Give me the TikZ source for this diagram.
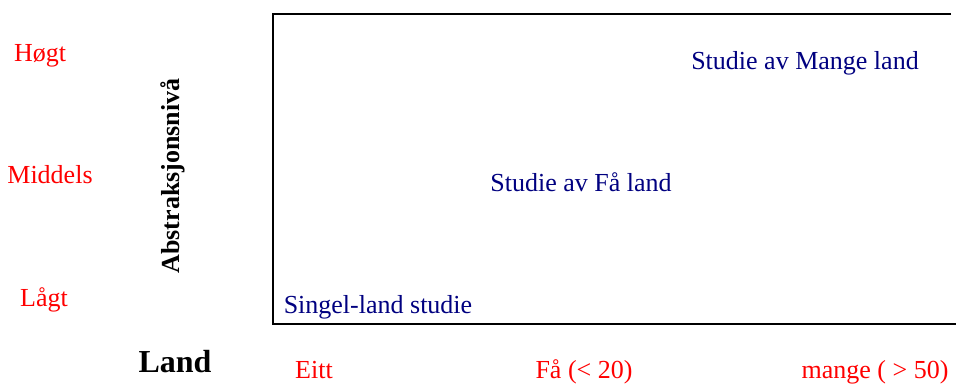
\documentclass[tikz,border=0pt]{standalone}
\usepackage{fontspec}
\setmainfont{Liberation Serif}
\definecolor{levelcol}{rgb}{1.0,0.0,0.0}
\definecolor{studycol}{rgb}{0.0,0.0,0.5}
\begin{document}
\begin{tikzpicture}[x=0.5bp,y=0.5bp,line join=miter,
  txt/.style={anchor=base,inner sep=0pt,font=\fontsize{13bp}{15bp}\selectfont},
  level/.style={txt,text=levelcol},
  study/.style={txt,text=studycol},
  axislabel/.style={txt,font=\fontsize{13bp}{15bp}\selectfont\bfseries},
]
  \useasboundingbox (0,0) rectangle (956,385);
  \pgfsetlinewidth{1bp}
%%
  % Frame
  \coordinate (FrameTop) at (951,371);
  \coordinate (FrameTL) at (272.5,371);
  \coordinate (FrameBL) at (272.5,61);
  \coordinate (FrameBottom) at (956,61);
  \draw (FrameTop) -- (FrameTL) -- (FrameBL) -- (FrameBottom);
  % Node: Abstraksjonsniva
  \node[axislabel,rotate=90] (Abstraksjonsniva) at (179.5,209) {Abstraksjonsnivå};
  % Node: Land
  \node[axislabel,font=\fontsize{16bp}{19bp}\selectfont\bfseries] (Land) at (175,12) {Land};
  % Node: Hogt
  \node[level] (Hogt) at (40,323) {Høgt};
  % Node: Middels
  \node[level] (Middels) at (50,201) {Middels};
  % Node: Lagt
  \node[level] (Lagt) at (44,78) {Lågt};
  % Node: Eitt
  \node[level] (Eitt) at (314,6) {Eitt};
  % Node: Fa
  \node[level] (Fa) at (584,6) {Få (< 20)};
  % Node: Mange
  \node[level] (Mange) at (875,6) {mange ( > 50)};
  % Node: StudieMange
  \node[study] (StudieMange) at (805,315) {Studie av Mange land};
  % Node: StudieFa
  \node[study] (StudieFa) at (581,193) {Studie av Få land};
  % Node: Singel
  \node[study] (Singel) at (378,71) {Singel-land studie};
%
\end{tikzpicture}
\end{document}
